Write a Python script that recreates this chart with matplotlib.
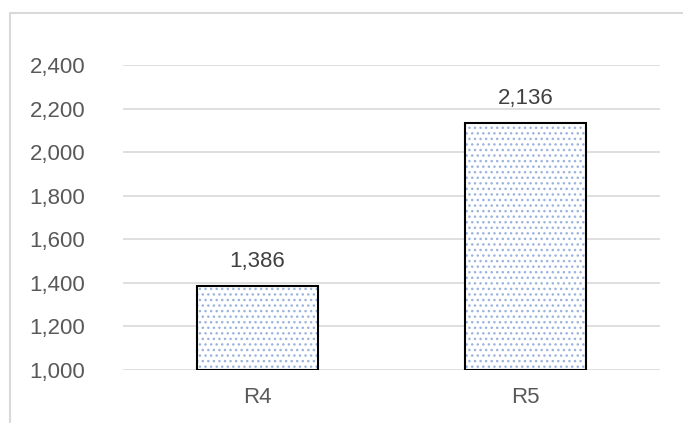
import matplotlib.pyplot as plt
from matplotlib.patches import Rectangle

# Values per category
categories = ["R4", "R5"]
values = [1386, 2136]
y_ticks = [1000, 1200, 1400, 1600, 1800, 2000, 2200, 2400]

plt.rcParams['font.family'] = ['Liberation Sans', 'DejaVu Sans']

fig = plt.figure(figsize=(6.83, 4.23), dpi=100)
ax = fig.add_axes([0.180, 0.1253, 0.786, 0.721])

# outer chart frame (cut off at right and bottom)
fig.patches.append(Rectangle((10 / 683, -0.1), 1.2, 1 - 13 / 423 + 0.1,
                             transform=fig.transFigure, fill=False,
                             edgecolor='#d9d9d9', linewidth=1.5))

x = range(len(categories))
# dotted fill first, then the black outline on top
ax.bar(x, [v - 1000 for v in values], bottom=1000, width=0.45,
       color='white', edgecolor='#9bb4df', hatch='...', linewidth=0, zorder=2)
ax.bar(x, [v - 1000 for v in values], bottom=1000, width=0.45,
       fill=False, edgecolor='black', linewidth=1.5, zorder=3)

for xi, v in zip(x, values):
    ax.annotate(f"{v:,}", (xi, v), xytext=(0, 10), textcoords='offset points',
                ha='center', va='bottom', fontsize=16, color='#404040')

ax.set_xlim(-0.5, 1.5)
ax.set_ylim(1000, 2400)
ax.set_yticks(y_ticks)
ax.set_yticklabels([f"{t:,}" for t in y_ticks])
ax.set_xticks(list(x))
ax.set_xticklabels(categories)
ax.tick_params(axis='y', length=0, pad=27, labelsize=16, labelcolor='#595959')
ax.tick_params(axis='x', length=0, pad=12, labelsize=16, labelcolor='#595959')
ax.grid(axis='y', color='#d9d9d9', linewidth=1.2, zorder=0)
ax.set_axisbelow(True)
for s in ax.spines.values():
    s.set_visible(False)

fig.savefig("out.png", dpi=100)
